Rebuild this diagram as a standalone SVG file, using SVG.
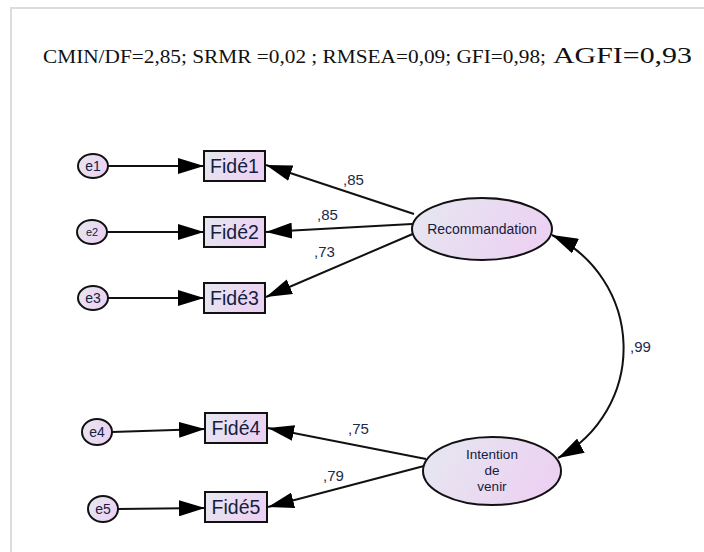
<svg xmlns="http://www.w3.org/2000/svg" width="704" height="552" viewBox="0 0 704 552">
<defs>
<linearGradient id="g" x1="0" y1="0" x2="1" y2="0.3">
<stop offset="0" stop-color="#e5e8f0"/>
<stop offset="1" stop-color="#ecd2f2"/>
</linearGradient>
<marker id="ah" viewBox="0 0 26 16" refX="26" refY="8" markerWidth="26" markerHeight="16" markerUnits="userSpaceOnUse" orient="auto-start-reverse">
<path d="M0,0 L26,8 L0,16 Z" fill="#000"/>
</marker>
<style>
.node{fill:url(#g);stroke:#111;stroke-width:2}
.lbl{font-family:"Liberation Sans",Arial,sans-serif;fill:#14203f}
.c{stroke:#111;stroke-width:2;fill:none;marker-end:url(#ah)}
.w{font-family:"Liberation Sans",Arial,sans-serif;font-size:15px;fill:#1c2a4a}
.t{font-family:"Liberation Serif","Times New Roman",serif;fill:#111}
</style>
</defs>
<rect width="704" height="552" fill="#fff"/>
<path d="M11,552 V8 H704" fill="none" stroke="#dcdcdc" stroke-width="2"/>
<text class="t" x="43" y="63" font-size="19" textLength="503" lengthAdjust="spacingAndGlyphs">CMIN/DF=2,85; SRMR =0,02 ; RMSEA=0,09; GFI=0,98;</text>
<text class="t" x="553" y="63" font-size="23" textLength="139" lengthAdjust="spacingAndGlyphs">AGFI=0,93</text>

<g id="connectors">
<line class="c" x1="108" y1="166" x2="204" y2="166"/>
<line class="c" x1="107" y1="232" x2="204" y2="232"/>
<line class="c" x1="108" y1="298" x2="204" y2="298"/>
<line class="c" x1="112" y1="432" x2="205" y2="429"/>
<line class="c" x1="118" y1="509" x2="205" y2="508"/>
<line class="c" x1="414" y1="214" x2="266" y2="165"/>
<line class="c" x1="412" y1="224" x2="266" y2="232"/>
<line class="c" x1="415" y1="233" x2="266" y2="297"/>
<line class="c" x1="426" y1="459" x2="268" y2="428"/>
<line class="c" x1="424" y1="466" x2="268" y2="507"/>
<path class="c" d="M552,235 A125,125 0 0 1 558,458" style="marker-start:url(#ah)"/>
<text class="w" x="343" y="185">,85</text>
<text class="w" x="317" y="220">,85</text>
<text class="w" x="314" y="257">,73</text>
<text class="w" x="348" y="434">,75</text>
<text class="w" x="323" y="481">,79</text>
<text class="w" x="630" y="352">,99</text>
</g>

<g id="e1"><ellipse class="node" cx="93" cy="166" rx="15" ry="12"/><text class="lbl" x="93" y="171" font-size="14" text-anchor="middle">e1</text></g>
<g id="e2"><ellipse class="node" cx="92" cy="232" rx="15" ry="12"/><text class="lbl" x="92" y="236" font-size="11" text-anchor="middle">e2</text></g>
<g id="e3"><ellipse class="node" cx="93" cy="298" rx="15" ry="12"/><text class="lbl" x="93" y="303" font-size="14" text-anchor="middle">e3</text></g>
<g id="e4"><ellipse class="node" cx="97" cy="432" rx="15" ry="13"/><text class="lbl" x="97" y="437" font-size="14" text-anchor="middle">e4</text></g>
<g id="e5"><ellipse class="node" cx="103" cy="509" rx="15" ry="13"/><text class="lbl" x="103" y="514" font-size="14" text-anchor="middle">e5</text></g>

<g id="fide1"><rect class="node" x="204" y="151" width="61" height="30"/><text class="lbl" x="234.5" y="173" font-size="19.5" text-anchor="middle">Fidé1</text></g>
<g id="fide2"><rect class="node" x="204" y="217" width="61" height="30"/><text class="lbl" x="234.5" y="239" font-size="19.5" text-anchor="middle">Fidé2</text></g>
<g id="fide3"><rect class="node" x="204" y="283" width="61" height="30"/><text class="lbl" x="234.5" y="305" font-size="19.5" text-anchor="middle">Fidé3</text></g>
<g id="fide4"><rect class="node" x="205" y="413" width="62" height="30"/><text class="lbl" x="236" y="435" font-size="19.5" text-anchor="middle">Fidé4</text></g>
<g id="fide5"><rect class="node" x="205" y="492" width="62" height="30"/><text class="lbl" x="236" y="514" font-size="19.5" text-anchor="middle">Fidé5</text></g>

<g id="recommandation"><ellipse class="node" cx="482" cy="229" rx="70" ry="31"/><text class="lbl" x="482" y="234" font-size="14" text-anchor="middle">Recommandation</text></g>
<g id="intention"><ellipse class="node" cx="492" cy="471" rx="69" ry="34"/><text class="lbl" font-size="13.5" text-anchor="middle"><tspan x="492" y="459">Intention</tspan><tspan x="492" y="475">de</tspan><tspan x="492" y="491">venir</tspan></text></g>
</svg>
